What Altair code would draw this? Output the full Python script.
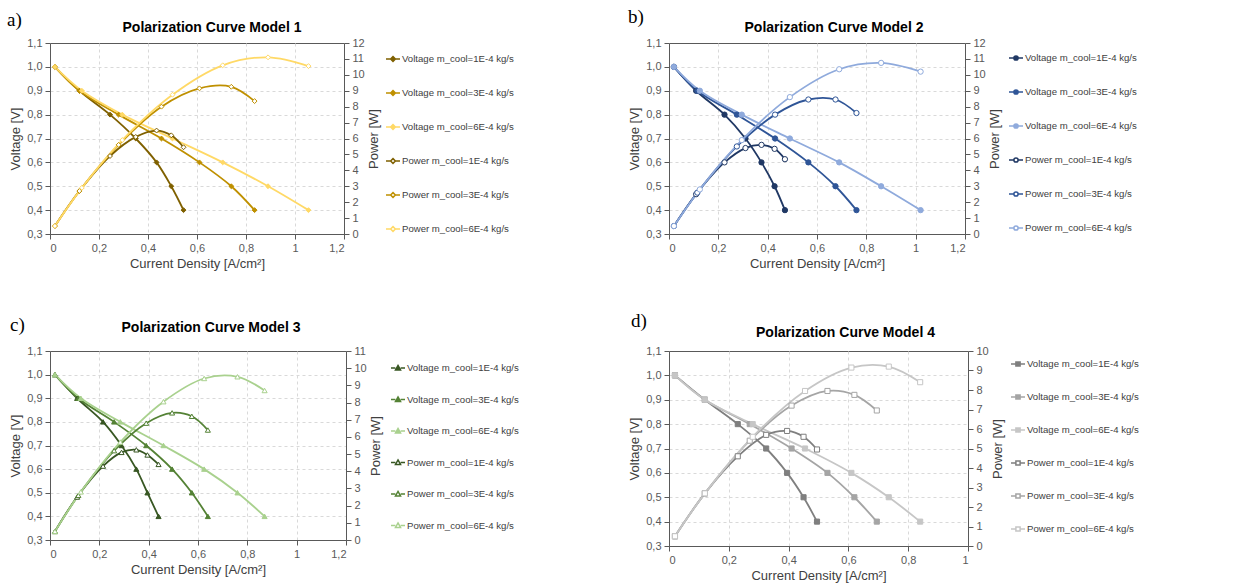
import altair as alt
import pandas as pd

SERIES = ["Voltage m_cool=1E-4 kg/s", "Voltage m_cool=3E-4 kg/s", "Voltage m_cool=6E-4 kg/s",
          "Power m_cool=1E-4 kg/s", "Power m_cool=3E-4 kg/s", "Power m_cool=6E-4 kg/s"]
VOLTS = [1.0, 0.9, 0.8, 0.7, 0.6, 0.5, 0.4]
V_TICKS = [0.3, 0.4, 0.5, 0.6, 0.7, 0.8, 0.9, 1.0, 1.1]
X_TICKS_12 = [0, 0.2, 0.4, 0.6, 0.8, 1.0, 1.2]
X_TICKS_10 = [0, 0.2, 0.4, 0.6, 0.8, 1.0]

# Model 1
A_I1 = [0.02, 0.12, 0.245, 0.35, 0.435, 0.495, 0.545]
A_P1 = [0.5, 2.7, 4.9, 6.1, 6.5, 6.2, 5.45]
A_I3 = [0.02, 0.12, 0.28, 0.455, 0.61, 0.74, 0.835]
A_P3 = [0.5, 2.7, 5.6, 8.0, 9.15, 9.25, 8.35]
A_I6 = [0.02, 0.13, 0.295, 0.5, 0.705, 0.89, 1.055]
A_P6 = [0.5, 2.9, 5.9, 8.75, 10.6, 11.1, 10.55]
# Model 2
B_I1 = [0.02, 0.11, 0.225, 0.31, 0.375, 0.428, 0.47]
B_P1 = [0.5, 2.5, 4.5, 5.4, 5.6, 5.35, 4.7]
B_I3 = [0.02, 0.115, 0.275, 0.43, 0.565, 0.675, 0.76]
B_P3 = [0.5, 2.6, 5.5, 7.5, 8.45, 8.45, 7.6]
B_I6 = [0.02, 0.125, 0.295, 0.49, 0.69, 0.86, 1.02]
B_P6 = [0.5, 2.8, 5.9, 8.6, 10.35, 10.75, 10.2]
# Model 3
C_I1 = [0.02, 0.11, 0.215, 0.29, 0.35, 0.395, 0.44]
C_P1 = [0.5, 2.5, 4.3, 5.1, 5.25, 4.95, 4.4]
C_I3 = [0.02, 0.115, 0.26, 0.39, 0.495, 0.575, 0.64]
C_P3 = [0.5, 2.6, 5.2, 6.8, 7.4, 7.2, 6.4]
C_I6 = [0.02, 0.125, 0.285, 0.46, 0.625, 0.76, 0.87]
C_P6 = [0.5, 2.8, 5.7, 8.05, 9.4, 9.5, 8.7]
# Model 4
D_I1 = [0.02, 0.12, 0.23, 0.325, 0.395, 0.45, 0.495]
D_P1 = [0.5, 2.7, 4.6, 5.7, 5.9, 5.6, 4.95]
D_I3 = [0.02, 0.12, 0.27, 0.41, 0.53, 0.62, 0.695]
D_P3 = [0.5, 2.7, 5.4, 7.2, 7.95, 7.75, 6.95]
D_I6 = [0.02, 0.12, 0.28, 0.455, 0.61, 0.735, 0.84]
D_P6 = [0.5, 2.7, 5.6, 7.95, 9.15, 9.2, 8.4]

COL_A = ["#7f6000", "#bf9000", "#ffd966"]
COL_B = ["#203864", "#2f5597", "#8faadc"]
COL_C = ["#385723", "#548235", "#a9d18e"]
COL_D = ["#7f7f7f", "#a5a5a5", "#c6c6c6"]

FONT = "Liberation Sans"

SEG = "M-1,0H-0.38M0.38,0H1"
PATH_DIAMOND = SEG + "M0,-0.34L0.34,0L0,0.34L-0.34,0Z"
PATH_CIRCLE = SEG + "M0.3,0A0.3,0.3 0 1,1 -0.3,0A0.3,0.3 0 1,1 0.3,0Z"
PATH_TRI = SEG + "M0,-0.36L0.36,0.28L-0.36,0.28Z"
PATH_SQUARE = SEG + "M-0.3,-0.3H0.3V0.3H-0.3Z"


def panel(letter, title, dx, ty, I_lists, P_lists, colors, shape, msize, lpath,
          pmax, xmax, xticks, w, h, legx, legy, rowpad, lx, ly):
    vrows, prows = [], []
    for k in range(3):
        for i, v in zip(I_lists[k], VOLTS):
            vrows.append({"series": SERIES[k], "I": i, "V": v})
        for i, p in zip(I_lists[k], P_lists[k]):
            prows.append({"series": SERIES[k + 3], "I": i, "P": p})
    vdf = pd.DataFrame(vrows)
    pdf = pd.DataFrame(prows)

    stroke_scale = alt.Scale(domain=SERIES, range=colors + colors)
    fill_scale = alt.Scale(domain=SERIES, range=colors + ["white"] * 3)
    leg = alt.Legend(title=None, orient="none", legendX=legx, legendY=legy,
                     symbolType=lpath, symbolSize=196, symbolStrokeWidth=1.5,
                     labelFont=FONT, labelFontSize=9.6, labelColor="#404040",
                     rowPadding=rowpad, padding=0, labelOffset=1)

    x = alt.X("I:Q", scale=alt.Scale(domain=[0, xmax], nice=False),
              axis=alt.Axis(values=xticks, title="Current Density [A/cm²]",
                            labelExpr="replace(format(datum.value, '~g'), '.', ',')",
                            grid=True, gridDash=[3, 3], gridColor="#d9d9d9"))
    yv = alt.Y("V:Q", scale=alt.Scale(domain=[0.3, 1.1], nice=False, zero=False),
               axis=alt.Axis(values=V_TICKS, title="Voltage [V]", orient="left",
                             labelExpr="replace(format(datum.value, '.1f'), '.', ',')",
                             grid=True, gridDash=[3, 3], gridColor="#d9d9d9",
                             gridOpacity={"condition": {"test": "datum.value > 1.05", "value": 0},
                                          "value": 1}))
    yp = alt.Y("P:Q", scale=alt.Scale(domain=[0, pmax], nice=False),
               axis=alt.Axis(values=list(range(0, pmax + 1)), title="Power [W]",
                             orient="right", format="d", grid=False, titleAngle=270,
                             titlePadding=16))
    stroke = alt.Stroke("series:N", scale=stroke_scale, legend=leg)
    fill = alt.Fill("series:N", scale=fill_scale, legend=leg)

    vline = alt.Chart(vdf).mark_line(interpolate="catmull-rom", strokeWidth=1.8).encode(
        x=x, y=yv, stroke=stroke, detail="series:N")
    vpts = alt.Chart(vdf).mark_point(shape=shape, size=msize, opacity=1, strokeWidth=1).encode(
        x=x, y=yv, stroke=stroke, fill=fill)
    pline = alt.Chart(pdf).mark_line(interpolate="catmull-rom", strokeWidth=1.8).encode(
        x=x, y=yp, stroke=stroke, detail="series:N")
    ppts = alt.Chart(pdf).mark_point(shape=shape, size=msize, opacity=1, strokeWidth=1).encode(
        x=x, y=yp, stroke=stroke, fill=fill)
    lab = alt.Chart(pd.DataFrame({"t": [letter]})).mark_text(
        font="Liberation Serif", fontSize=19, align="left", baseline="middle", color="black"
    ).encode(text="t:N", x=alt.value(lx), y=alt.value(ly))
    ttl = alt.Chart(pd.DataFrame({"t": [title]})).mark_text(
        font=FONT, fontSize=14, fontWeight="bold", align="center", baseline="alphabetic",
        color="black"
    ).encode(text="t:N", x=alt.value(w / 2 + dx), y=alt.value(ty))

    vgroup = alt.layer(vline, vpts, lab, ttl)
    pgroup = alt.layer(pline, ppts)
    return alt.layer(vgroup, pgroup).resolve_scale(y="independent").properties(
        width=w, height=h)


pa = panel("a)", "Polarization Curve Model 1", 15, -11,
           [A_I1, A_I3, A_I6], [A_P1, A_P3, A_P6], COL_A, "diamond", 24, PATH_DIAMOND,
           12, 1.2, X_TICKS_12, 294, 191, 335, 8, 20, -43, -23)
pb = panel("b)", "Polarization Curve Model 2", 17, -11,
           [B_I1, B_I3, B_I6], [B_P1, B_P3, B_P6], COL_B, "circle", 28, PATH_CIRCLE,
           12, 1.2, X_TICKS_12, 296, 191, 339, 7, 20, -41, -26)
pc = panel("c)", "Polarization Curve Model 3", 13, -19,
           [C_I1, C_I3, C_I6], [C_P1, C_P3, C_P6], COL_C, "triangle-up", 26, PATH_TRI,
           11, 1.2, X_TICKS_12, 296, 189, 340, 9, 18.5, -40, -26)
pd_ = panel("d)", "Polarization Curve Model 4", 27, -14,
            [D_I1, D_I3, D_I6], [D_P1, D_P3, D_P6], COL_D, "square", 26, PATH_SQUARE,
            10, 1.0, X_TICKS_10, 299, 195, 341, 5, 19, -38, -30)

chart = alt.concat(pa, pb, pc, pd_, columns=2, spacing={"column": 323, "row": 117},
                   bounds="flush").resolve_scale(
    x="independent", y="independent", stroke="independent", fill="independent"
).resolve_legend(stroke="independent", fill="independent").properties(
    padding={"left": 6, "top": 7, "right": 5, "bottom": 5},
    background="white",
).configure_view(stroke="#595959", strokeWidth=1).configure_axis(
    domainColor="#595959", tickColor="#595959", labelColor="#595959",
    titleColor="#404040", labelFont=FONT, titleFont=FONT, labelFontSize=11,
    titleFontSize=13, titleFontWeight="normal", tickSize=5, labelPadding=3,
).configure_legend(labelLimit=300)

chart.save("out.html", embed_options={"renderer": "svg", "actions": False})
